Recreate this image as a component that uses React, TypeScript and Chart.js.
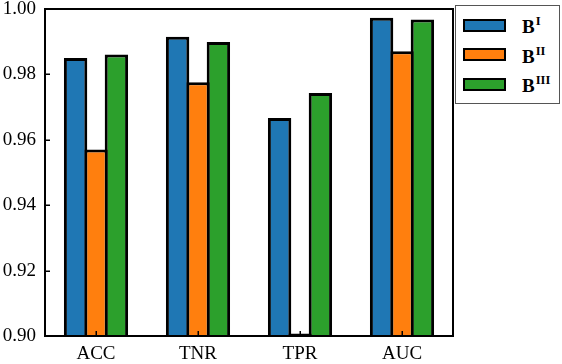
import React, { useEffect, useRef } from 'react';
import { Chart, registerables } from 'chart.js';

Chart.register(...registerables);

const categories = ['ACC', 'TNR', 'TPR', 'AUC'];
const seriesSup = ['I', 'II', 'III'];
const valuesBI = [0.985, 0.9915, 0.9667, 0.9973];
const valuesBII = [0.957, 0.9776, 0.9008, 0.9871];
const valuesBIII = [0.9861, 0.9899, 0.9743, 0.9968];
const yTicks = [0.9, 0.92, 0.94, 0.96, 0.98, 1.0];
const colors = ['#1f77b4', '#ff7f0e', '#2ca02c'];

const FONT = "'Liberation Serif', 'Times New Roman', serif";

const framePlugin = {
  id: 'mplFrame',
  afterDraw(chart: any) {
    const { ctx, chartArea, scales } = chart;
    const { left, right, top, bottom } = chartArea;
    ctx.save();
    ctx.strokeStyle = '#000';
    ctx.lineWidth = 1.5;
    ctx.beginPath();
    yTicks.forEach((v) => {
      const y = Math.round(scales.y.getPixelForValue(v)) + 0.25;
      ctx.moveTo(left, y);
      ctx.lineTo(left + 5, y);
    });
    categories.forEach((_, i) => {
      const x = Math.round(scales.x.getPixelForValue(i)) + 0.25;
      ctx.moveTo(x, bottom);
      ctx.lineTo(x, bottom - 5);
    });
    ctx.stroke();
    ctx.lineWidth = 2;
    ctx.strokeRect(left, top, right - left, bottom - top);
    ctx.restore();
  },
};

function Legend() {
  const rows = [24, 53.5, 83];
  return (
    <div
      style={{
        position: 'absolute',
        left: 455,
        top: 5,
        width: 105,
        height: 99,
        border: '1px solid #555',
        background: '#fff',
        boxSizing: 'border-box',
      }}
    >
      {seriesSup.map((s, i) => (
        <React.Fragment key={s}>
          <div
            style={{
              position: 'absolute',
              left: 7,
              top: rows[i] - 6.5 - 5,
              width: 43,
              height: 13,
              background: colors[i],
              border: '2px solid #000',
              boxSizing: 'border-box',
            }}
          />
          <div
            style={{
              position: 'absolute',
              left: 66,
              top: rows[i] + 8.3 - 5 - 16,
              fontFamily: FONT,
              fontWeight: 'bold',
              fontSize: 19,
              lineHeight: '19px',
              color: '#000',
              whiteSpace: 'nowrap',
            }}
          >
            B
            <span style={{ fontSize: 12.5, position: 'relative', top: -8, marginLeft: 1 }}>{s}</span>
          </div>
        </React.Fragment>
      ))}
    </div>
  );
}

export default function App() {
  const canvasRef = useRef<HTMLCanvasElement | null>(null);

  useEffect(() => {
    if (!canvasRef.current) return;
    const datasets = [valuesBI, valuesBII, valuesBIII].map((vals, i) => ({
      label: 'B' + seriesSup[i],
      data: vals,
      backgroundColor: colors[i],
      borderColor: '#000',
      borderWidth: 3,
      categoryPercentage: 0.6,
      barPercentage: 23.4 / 20.4,
    }));
    const chart = new Chart(canvasRef.current, {
      type: 'bar',
      data: { labels: categories, datasets },
      options: {
        animation: false,
        responsive: false,
        devicePixelRatio: 1,
        layout: { padding: { top: 9, right: 109, left: 0, bottom: 0 } },
        plugins: { legend: { display: false }, tooltip: { enabled: false } },
        scales: {
          x: {
            grid: { display: false, drawTicks: false },
            border: { display: false },
            ticks: {
              color: '#000',
              font: { family: FONT, size: 19 },
              padding: 7,
              maxRotation: 0,
              autoSkip: false,
            },
            afterFit: (s: any) => {
              s.height = 28;
              s.paddingLeft = 0;
              s.paddingRight = 0;
            },
          },
          y: {
            min: 0.9,
            max: 1.0,
            grid: { display: false, drawTicks: false },
            border: { display: false },
            ticks: {
              color: '#000',
              font: { family: FONT, size: 19 },
              padding: 9,
              callback: (v: any) => Number(v).toFixed(2),
            },
            afterBuildTicks: (s: any) => {
              s.ticks = yTicks.map((v) => ({ value: v }));
            },
            afterFit: (s: any) => {
              s.width = 45;
              s.paddingTop = 0;
              s.paddingBottom = 0;
            },
          },
        },
      },
      plugins: [framePlugin],
    } as any);
    return () => chart.destroy();
  }, []);

  return (
    <div style={{ position: 'fixed', left: 0, top: 0, width: 562, height: 364, background: '#fff' }}>
      <canvas ref={canvasRef} width={562} height={364} style={{ display: 'block' }} />
      <Legend />
    </div>
  );
}
